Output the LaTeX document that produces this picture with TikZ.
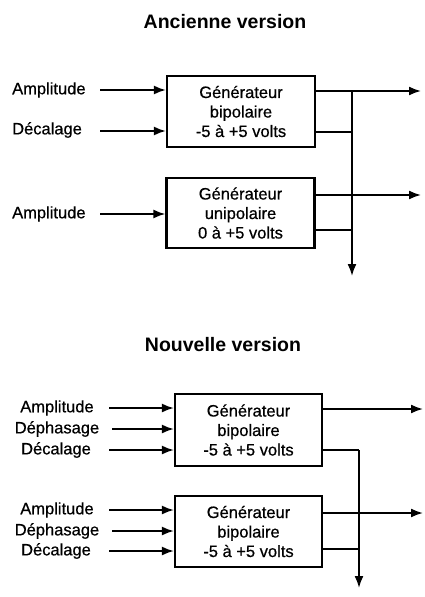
\documentclass[tikz,border=0pt]{standalone}
\usepackage{fontspec}
\setmainfont{Liberation Sans}
\newfontfamily\heavyfont[FakeBold=0.6]{Liberation Sans}
\usetikzlibrary{arrows.meta}
\begin{document}
\begin{tikzpicture}[x=1pt,y=-1pt,
  gen/.style={draw,line width=2.2pt,minimum width=148pt,minimum height=71pt,inner sep=0pt,align=center,font=\heavyfont\fontsize{16.5}{19.5}\selectfont},
  lbl/.style={inner sep=0pt,font=\heavyfont\fontsize{16.5}{19.5}\selectfont},
  ttl/.style={inner sep=0pt,font=\fontsize{19.5}{22}\selectfont\bfseries},
  arr/.style={line width=1.8pt,-{Latex[length=12pt,width=9pt]}},
  wire/.style={line width=1.8pt}]
\useasboundingbox (0,0) rectangle (424,597);
% ---------- Ancienne version ----------
\node[ttl] (t1) at (225,22) {Ancienne version};
\node[gen] (b1) at (241,111.5) {Générateur\\bipolaire\\-5 à +5 volts};
\node[gen,minimum height=70pt] (b2) at (240.5,213) {Générateur\\unipolaire\\0 à +5 volts};
\node[lbl,anchor=west] (a1) at (12,90) {Amplitude};
\node[lbl,anchor=west] (d1) at (12,130) {Décalage};
\node[lbl,anchor=west] (a2) at (12,214) {Amplitude};
\coordinate (sa1) at (100,90);
\coordinate (sd1) at (100,131);
\coordinate (sa2) at (100,214);
\draw[arr] (sa1) -- (sa1 -| b1.west);
\draw[arr] (sd1) -- (sd1 -| b1.west);
\draw[arr] (sa2) -- (sa2 -| b2.west);
\coordinate (o1) at (421,91);
\coordinate (o2) at (421,195);
\coordinate (bus1t) at (352,91);
\coordinate (bus1b) at (352,276);
\draw[arr] (o1 -| b1.east) -- (o1);
\draw[arr] (o2 -| b2.east) -- (o2);
\draw[wire] (b1.east |- 0,132) -- (bus1t |- 0,132);
\draw[wire] (b2.east |- 0,230) -- (bus1t |- 0,230);
\draw[arr] (bus1t) -- (bus1b);
% ---------- Nouvelle version ----------
\node[ttl] (t2) at (223,345) {Nouvelle version};
\node[gen,minimum width=147pt,minimum height=72pt] (b3) at (248.5,430) {Générateur\\bipolaire\\-5 à +5 volts};
\node[gen,minimum width=147pt] (b4) at (248.5,531.5) {Générateur\\bipolaire\\-5 à +5 volts};
\node[lbl] (a3) at (57,408) {Amplitude};
\node[lbl] (p3) at (57,429) {Déphasage};
\node[lbl] (d3) at (56,450) {Décalage};
\node[lbl] (a4) at (57,510) {Amplitude};
\node[lbl] (p4) at (57,531) {Déphasage};
\node[lbl] (d4) at (56,551) {Décalage};
\coordinate (sa3) at (109,408);
\coordinate (sp3) at (112,429);
\coordinate (sd3) at (109,450);
\coordinate (sa4) at (109,510);
\coordinate (sp4) at (112,531);
\coordinate (sd4) at (109,551);
\draw[arr] (sa3) -- (sa3 -| b3.west);
\draw[arr] (sp3) -- (sp3 -| b3.west);
\draw[arr] (sd3) -- (sd3 -| b3.west);
\draw[arr] (sa4) -- (sa4 -| b4.west);
\draw[arr] (sp4) -- (sp4 -| b4.west);
\draw[arr] (sd4) -- (sd4 -| b4.west);
\coordinate (o3) at (423,409);
\coordinate (o4) at (423,513);
\coordinate (bus2t) at (359,450);
\coordinate (bus2b) at (359,588);
\draw[arr] (o3 -| b3.east) -- (o3);
\draw[arr] (o4 -| b4.east) -- (o4);
\draw[wire] (b3.east |- bus2t) -- (bus2t);
\draw[wire] (b4.east |- 0,549) -- (bus2t |- 0,549);
\draw[arr] (bus2t) -- (bus2b);
\end{tikzpicture}
\end{document}
